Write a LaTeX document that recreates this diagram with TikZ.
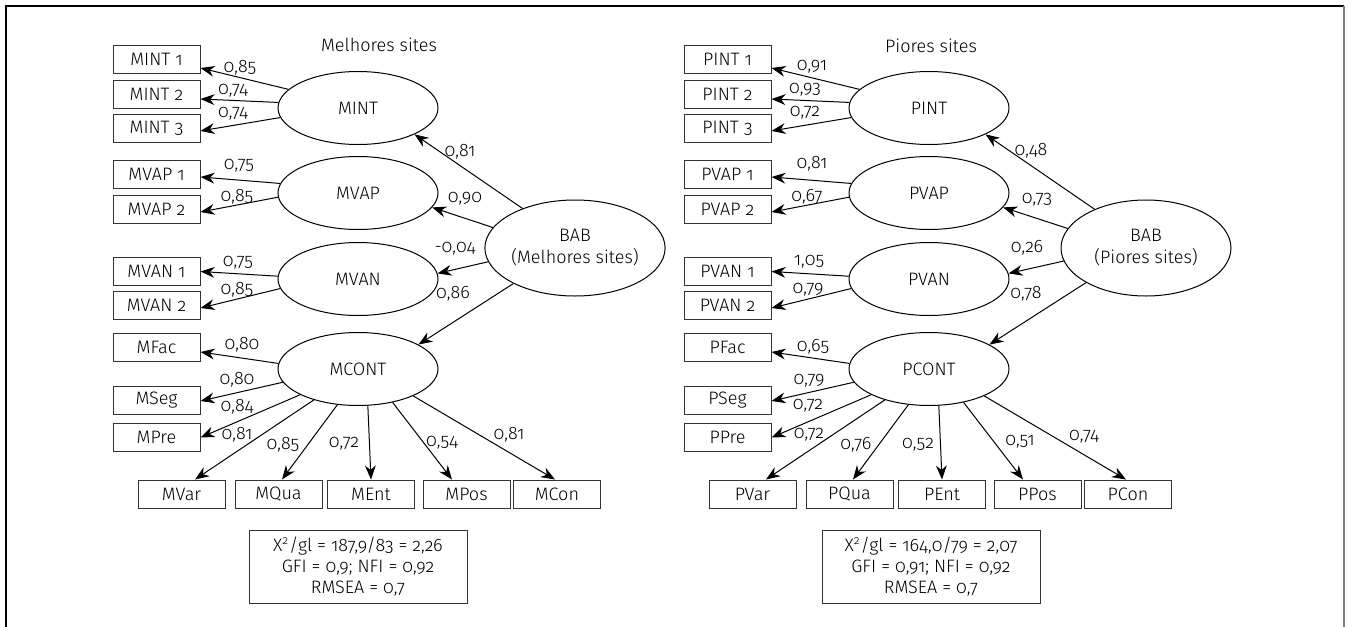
\documentclass[tikz,border=0pt]{standalone}
\usepackage{fontspec}
\setmainfont{Fira Sans}[Numbers=OldStyle,UprightFont=* Light]
\usetikzlibrary{shapes.geometric,arrows.meta}

\begin{document}
\begin{tikzpicture}[x=0.5pt,y=-0.5pt,line width=0.5pt,>={Stealth[length=7pt,width=5.4pt]},
    font=\fontsize{9}{11}\selectfont,
    ind/.style={draw=black!80,minimum width=43.5pt,minimum height=14pt,inner sep=0pt},
    lat/.style={draw,ellipse,minimum width=80pt,minimum height=36.5pt,inner sep=0pt},
    ajuste/.style={draw=black!80,minimum width=109pt,minimum height=35pt,align=center,
      font=\fontsize{9}{10.5}\selectfont},
    coef/.style={inner sep=0pt}]
  \useasboundingbox (0,0) rectangle (1351,627);
  \draw[line width=1pt] (6,627) -- (6,6) -- (1344,6);
  \draw[line width=1pt,black!50] (1344,6) -- (1344,627);

  \node (tituloM) at (379,45) {Melhores sites};
  \node (tituloP) at (931,46) {Piores sites};

  % both models share the same layout
  \foreach \s/\dx/\grupo in {M/0/Melhores,P/571/Piores}{
  \begin{scope}[xshift=\dx*0.5pt]
    \foreach \nm/\txt/\yy in {INT1/INT 1/59,INT2/INT 2/94,INT3/INT 3/128.5,
        VAP1/VAP 1/174,VAP2/VAP 2/209,VAN1/VAN 1/271.5,VAN2/VAN 2/305,
        Fac/Fac/347.5,Seg/Seg/400,Pre/Pre/437.5}
      \node[ind] (\s\nm) at (156.5,\yy) {\s\txt};
    \foreach \nm/\xx in {Var/181.5,Qua/278.5,Ent/371,Pos/466.5,Con/557}
      \node[ind] (\s\nm) at (\xx,494) {\s\nm};

    \node[lat] (\s INT) at (358,108) {\s INT};
    \node[lat] (\s VAP) at (358,193) {\s VAP};
    \node[lat] (\s VAN) at (358,279) {\s VAN};
    \node[lat] (\s CONT) at (358,369) {\s CONT};
    \node[lat,minimum width=85pt,minimum height=48pt,align=center] (\s BAB) at (575,248)
      {BAB\\(\grupo\ sites)};

    \foreach \lv/\ob/\ang/\sh in {INT/INT1/165/-4.5,INT/INT2/176/-2.5,INT/INT3/-173/-1.2,
        VAP/VAP1/173/-1.5,VAP/VAP2/183/-1.5,VAN/VAN1/178/0,VAN/VAN2/187/-1.5,
        CONT/Fac/176/-2.25,CONT/Seg/190/-0.5,CONT/Pre/204/0}
      \draw[->] (\s\lv.\ang) -- ([yshift=\sh pt]\s\ob.east);
    \foreach \ob/\ang/\sh in {Var/215/6.75,Qua/240/1.75,Ent/-75/0,Pos/-44/-7.25,Con/-26/-1}
      \draw[->] (\s CONT.\ang) -- ([xshift=\sh pt]\s\ob.north);

    \draw[->] (\s BAB.143) -- (\s INT.-25);
    \draw[->] (\s BAB.166) -- (\s VAP.-11);
    \draw[->] (\s BAB.-171) -- (\s VAN.4);
    \draw[->] (\s BAB.210) -- (\s CONT.22);
  \end{scope}}

  \node[ajuste] (ajusteM) at (358,567)
    {X\textsuperscript{2}/gl = 187,9/83 = 2,26\\GFI = 0,9; NFI = 0,92\\RMSEA = 0,7};
  \node[ajuste] (ajusteP) at (931,567)
    {X\textsuperscript{2}/gl = 164,0/79 = 2,07\\GFI = 0,91; NFI = 0,92\\RMSEA = 0,7};

  % coefficients
  \foreach \xx/\yy/\v [count=\i] in {240/68/{0,85},233/91/{0,74},233/114/{0,74},
      239/166/{0,75},237/197/{0,85},238/263/{0,75},237/290/{0,85},242/345/{0,80},
      237/380/{0,80},237/407/{0,84},237/435/{0,81},283/445/{0,85},344/444/{0,72},
      442/443/{0,54},509/435/{0,81},460/152/{0,81},465/199/{0,90},455/249/{-0,04},
      453/294/{0,86}}
    \node[coef] (cM\i) at (\xx,\yy) {\v};
  \foreach \xx/\yy/\v [count=\i] in {812/67/{0,91},805/90/{0,93},805/113/{0,72},
      812/164/{0,81},807/197/{0,67},809/262/{1,05},808/290/{0,79},813/347/{0,65},
      809/381/{0,79},808/406/{0,72},809/435/{0,72},856/445/{0,76},918/445/{0,52},
      1020/442/{0,51},1084/437/{0,74},1031/151/{0,48},1037/200/{0,73},1027/248/{0,26},
      1026/294/{0,78}}
    \node[coef] (cP\i) at (\xx,\yy) {\v};
\end{tikzpicture}
\end{document}
